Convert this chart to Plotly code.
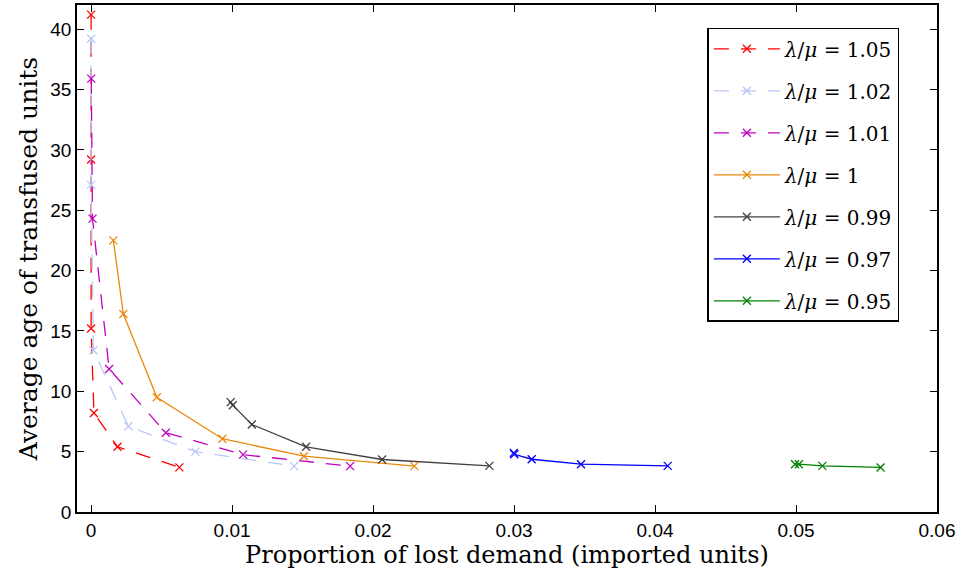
import plotly.graph_objects as go

# proportion of lost demand (x) and average age (y) per lambda/mu ratio
labels = ["1.05", "1.02", "1.01", "1", "0.99", "0.97", "0.95"]

x_105 = [0.0, 0.0, 0.0, 0.0002, 0.00187, 0.00626]
y_105 = [41.2, 29.2, 15.2, 8.2, 5.4, 3.7]

x_102 = [0.0, 0.0, 0.00016, 0.00265, 0.0074, 0.0144]
y_102 = [39.2, 27.1, 13.4, 7.1, 5.0, 3.8]

x_101 = [0.00001, 0.0001, 0.00128, 0.0053, 0.01078, 0.01837]
y_101 = [35.9, 24.3, 11.85, 6.57, 4.75, 3.8]

x_100 = [0.00158, 0.00229, 0.00466, 0.00931, 0.0151, 0.02293]
y_100 = [22.5, 16.4, 9.5, 6.07, 4.62, 3.8]

x_099 = [0.0099, 0.01005, 0.0114, 0.01525, 0.02064, 0.02825]
y_099 = [9.1, 8.85, 7.25, 5.4, 4.35, 3.82]

x_097 = [0.02998, 0.03002, 0.03125, 0.03475, 0.0409]
y_097 = [4.9, 4.78, 4.37, 3.96, 3.82]

x_095 = [0.04993, 0.0502, 0.05187, 0.0560]
y_095 = [3.96, 3.96, 3.82, 3.69]

series = [
    (x_105, y_105, "#ff0000", "dash"),
    (x_102, y_102, "#b7c6f7", "dash"),
    (x_101, y_101, "#c000c0", "dash"),
    (x_100, y_100, "#e8890c", "solid"),
    (x_099, y_099, "#404040", "solid"),
    (x_097, y_097, "#0000ff", "solid"),
    (x_095, y_095, "#008000", "solid"),
]

fig = go.Figure()
for i, (xs, ys, col, dash) in enumerate(series):
    fig.add_trace(go.Scatter(
        x=xs, y=ys,
        mode="lines+markers",
        name=f"<i>λ</i>/<i>μ</i> = {labels[i]}",
        legendgroup=f"g{i}",
        line=dict(color=col, width=1.3, dash="15px,12px" if dash == "dash" else "solid"),
        marker=dict(symbol="x-thin", size=8, line=dict(color=col, width=1.3)),
    ))

axis_common = dict(
    showline=True, linecolor="black", linewidth=1.5, mirror="ticks",
    ticks="inside", ticklen=7, tickcolor="black", tickwidth=1,
    showgrid=False, zeroline=False,
    tickfont=dict(family="Liberation Sans, Arial", size=19, color="black"),
)

title_font = dict(family="DejaVu Serif", size=24, color="black")

fig.update_xaxes(
    range=[-0.001, 0.06], tickvals=[0, 0.01, 0.02, 0.03, 0.04, 0.05, 0.06],
    ticktext=["0", "0.01", "0.02", "0.03", "0.04", "0.05", "0.06"],
    title=dict(text="Proportion of lost demand (imported units)", font=title_font, standoff=6),
    **axis_common,
)
fig.update_yaxes(
    range=[0, 42], tickvals=[0, 5, 10, 15, 20, 25, 30, 35, 40],
    title=dict(text="Average age of transfused units", font=dict(title_font, size=25), standoff=6),
    **axis_common,
)

fig.update_layout(
    width=965, height=586,
    margin=dict(l=77, r=28, t=3, b=74),
    plot_bgcolor="white", paper_bgcolor="white",
    legend=dict(
        x=0.733, y=0.955, xanchor="left", yanchor="top",
        bgcolor="white", bordercolor="black", borderwidth=1.5,
        font=dict(family="DejaVu Serif", size=20, color="black"),
        tracegroupgap=13, itemwidth=66,
    ),
)

fig.write_html("out.html", config={"displayModeBar": False},
               post_script="document.body.style.margin='0px';")
